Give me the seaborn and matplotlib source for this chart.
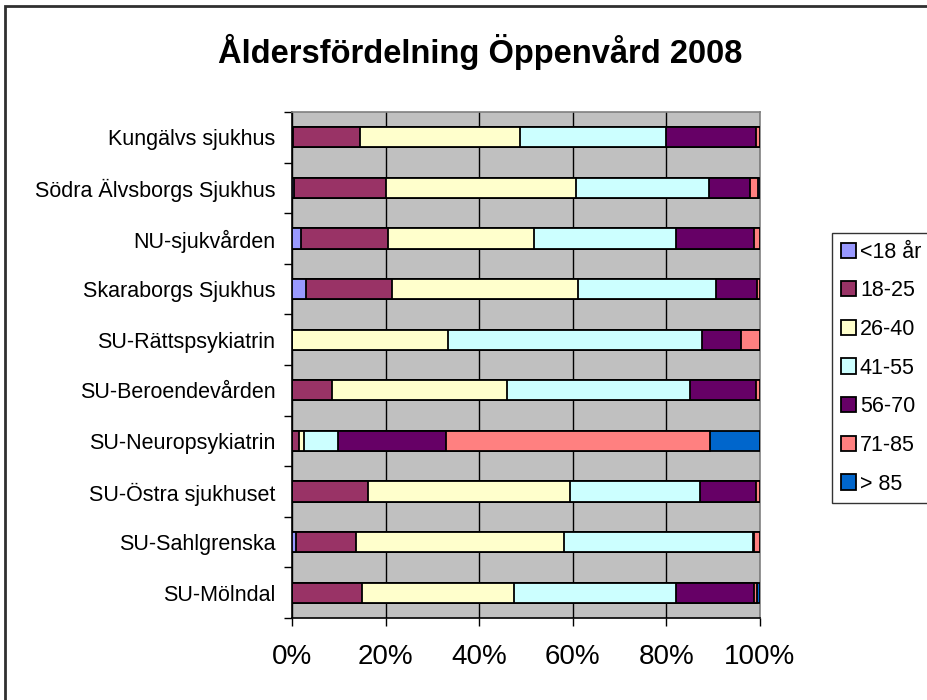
import numpy as np
import pandas as pd
import matplotlib
matplotlib.use("Agg")
import matplotlib.pyplot as plt
import seaborn as sns
from matplotlib.patches import Patch, Rectangle
from matplotlib.ticker import FixedLocator, PercentFormatter

sns.set_theme(style="white")
plt.rcParams['font.family'] = ['Liberation Sans', 'DejaVu Sans']
plt.rcParams['text.color'] = 'black'
plt.rcParams['xtick.color'] = 'black'
plt.rcParams['ytick.color'] = 'black'

# Data (percent of patients per age group)
categories = ["Kungälvs sjukhus", "Södra Älvsborgs Sjukhus", "NU-sjukvården",
              "Skaraborgs Sjukhus", "SU-Rättspsykiatrin", "SU-Beroendevården",
              "SU-Neuropsykiatrin", "SU-Östra sjukhuset", "SU-Sahlgrenska",
              "SU-Mölndal"]
groups = ["<18 år", "18-25", "26-40", "41-55", "56-70", "71-85", "> 85"]
u18 = [0.3, 0.4, 2.0, 2.9, 0.0, 0.0, 0.0, 0.0, 0.8, 0.0]
a18_25 = [14.2, 19.6, 18.5, 18.5, 0.0, 8.6, 1.6, 16.3, 12.8, 15.0]
a26_40 = [34.2, 40.7, 31.2, 39.8, 33.4, 37.4, 0.9, 43.2, 44.6, 32.5]
a41_55 = [31.2, 28.3, 30.3, 29.4, 54.3, 39.0, 7.3, 27.7, 40.2, 34.5]
a56_70 = [19.2, 8.9, 16.8, 8.7, 8.2, 14.1, 23.1, 11.9, 0.4, 16.8]
a71_85 = [0.9, 1.6, 1.2, 0.7, 4.1, 0.9, 56.4, 0.9, 1.2, 0.6]
a85 = [0.0, 0.5, 0.0, 0.0, 0.0, 0.0, 10.7, 0.0, 0.0, 0.6]

colors = ["#9999FF", "#993366", "#FFFFCC", "#CCFFFF", "#660066", "#FF8080", "#0066CC"]

df = pd.DataFrame(np.array([u18, a18_25, a26_40, a41_55, a56_70, a71_85, a85]).T,
                  columns=groups)
df = df.div(df.sum(axis=1), axis=0) * 100
cum = df.cumsum(axis=1)
cum["Sjukhus"] = categories

fig = plt.figure(figsize=(9.27, 7.0), dpi=100)
ax = fig.add_axes([292 / 927, 1 - 618 / 700, 468 / 927, 506 / 700])
ax.set_facecolor("#C0C0C0")

# stacked bars: draw cumulative totals from the outermost group inwards
for g, c in reversed(list(zip(groups, colors))):
    sns.barplot(data=cum, x=g, y="Sjukhus", order=categories, color=c,
                orient="h", width=0.4, edgecolor="black", linewidth=1.3,
                saturation=1, ax=ax, zorder=3)

ax.set_xlim(0, 100)
ax.set_ylim(len(categories) - 0.5, -0.5)
ax.set_xlabel("")
ax.set_ylabel("")
ax.xaxis.set_major_locator(FixedLocator([0, 20, 40, 60, 80, 100]))
ax.xaxis.set_major_formatter(PercentFormatter(decimals=0))
ax.grid(axis="x", color="black", linewidth=1.0, zorder=0)
ax.grid(axis="y", visible=False)
ax.set_axisbelow(True)

ax.tick_params(axis="x", which="major", direction="out", length=6, width=1,
               color="black", labelsize=20, pad=13, bottom=True)
ax.tick_params(axis="y", which="major", length=0, labelsize=15.5, pad=12)
ax.yaxis.set_minor_locator(FixedLocator(np.arange(-0.5, len(categories), 1.0)))
ax.tick_params(axis="y", which="minor", direction="out", length=6, width=1,
               color="black", left=True)

for s in ["left", "bottom"]:
    ax.spines[s].set_color("black")
    ax.spines[s].set_linewidth(1.2)
for s in ["top", "right"]:
    ax.spines[s].set_color("#808080")
    ax.spines[s].set_linewidth(1.2)

fig.text(480 / 927, 1 - 52 / 700, "Åldersfördelning Öppenvård 2008",
         ha="center", va="center", fontsize=23.5, fontweight="bold",
         color="black")

handles = [Patch(facecolor=c, edgecolor="black", linewidth=1.3) for c in colors]
leg = fig.legend(handles, groups, loc="upper left",
                 bbox_to_anchor=(832 / 927, 1 - 233 / 700),
                 bbox_transform=fig.transFigure, fontsize=15.5,
                 frameon=True, fancybox=False, borderaxespad=0,
                 handlelength=0.7, handleheight=0.7, handletextpad=0.2,
                 labelspacing=0.82, borderpad=0.4)
leg.get_frame().set_edgecolor("black")
leg.get_frame().set_linewidth(1.0)
for t in leg.get_texts():
    t.set_color("black")

# outer chart frame
fig.add_artist(Rectangle((5 / 927, -0.1), 1.2, 1 - 6 / 700 + 0.1,
                         transform=fig.transFigure, fill=False,
                         edgecolor="#303030", linewidth=2))

fig.savefig("out.png", dpi=100)
plt.close(fig)
